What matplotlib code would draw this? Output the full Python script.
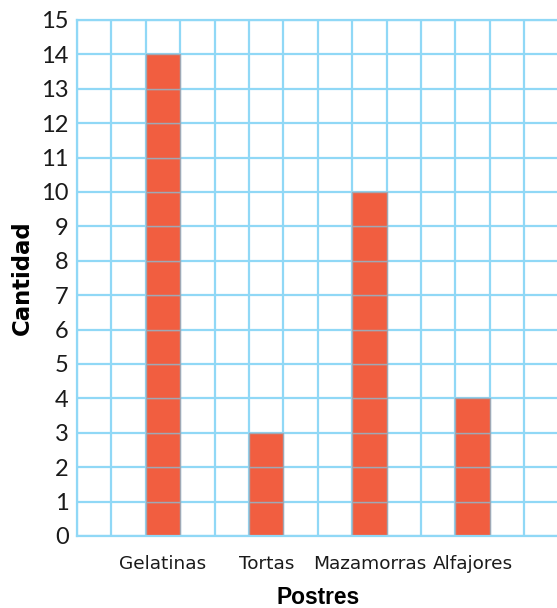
import numpy as np
import matplotlib
matplotlib.use("Agg")
import matplotlib.pyplot as plt

categories = ["Gelatinas", "Tortas", "Mazamorras", "Alfajores"]
values = [14, 3, 10, 4]
positions = [2.5, 5.5, 8.5, 11.5]
y_ticks = list(range(0, 16))

GRID = "#90d8f6"
BAR = "#f15e40"
BAR_EDGE = "#a0a8b4"

fig = plt.figure(figsize=(5.57, 6.08), dpi=100)
ax = fig.add_axes([77 / 557, 72 / 608, 481.6 / 557, 516 / 608])

ax.set_xlim(0, 14)
ax.set_ylim(0, 15)

# square grid, one cell per unit
ax.set_xticks(np.arange(0, 15), minor=True)
ax.set_yticks(y_ticks)
ax.grid(True, which="minor", axis="x", color=GRID, linewidth=1.6, zorder=0)
ax.grid(True, which="major", axis="y", color=GRID, linewidth=1.6, zorder=0)
ax.set_axisbelow(True)

# each bar is a stack of unit cells
for pos, val in zip(positions, values):
    ax.bar([pos] * val, np.ones(val), bottom=np.arange(val), width=1.0,
           color=BAR, edgecolor=BAR_EDGE, linewidth=1.0, zorder=2)

for side in ["left", "bottom", "top", "right"]:
    ax.spines[side].set_color(GRID)
    ax.spines[side].set_linewidth(1.6)

ax.set_xticks(positions)
ax.set_xticklabels(categories, fontsize=13.3, fontfamily="DejaVu Sans", color="#1a1a1a")
ax.set_yticklabels([str(t) for t in y_ticks], fontsize=17, fontfamily="Lato", color="#1a1a1a")
ax.tick_params(axis="both", which="both", length=0)
ax.tick_params(axis="x", pad=14)
ax.tick_params(axis="y", pad=6)

ax.set_xlabel("Postres", fontsize=16.4, fontweight="bold", fontfamily="Liberation Sans", labelpad=9)
ax.set_ylabel("Cantidad", fontsize=16.4, fontweight="bold", fontfamily="DejaVu Sans", labelpad=5)

fig.savefig("out.png", dpi=100)
